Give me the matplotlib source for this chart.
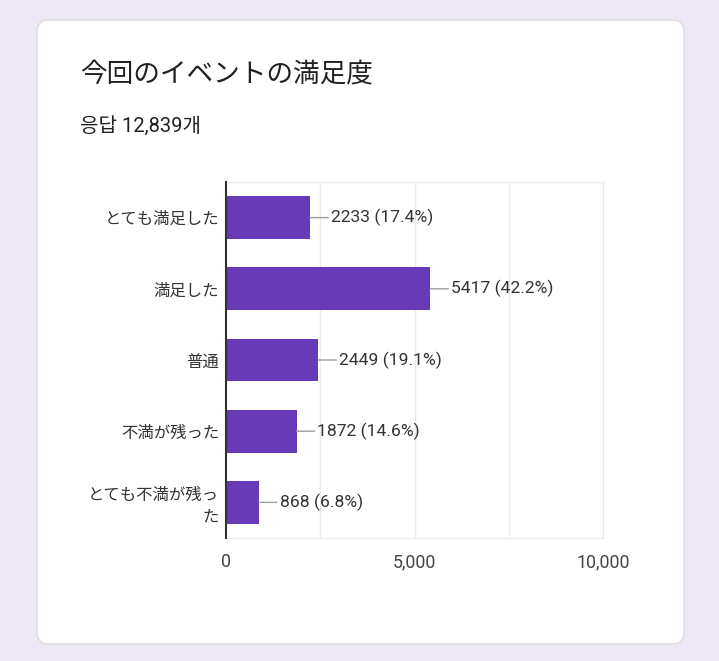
import matplotlib.pyplot as plt
from matplotlib.patches import FancyBboxPatch

# data
categories = ["とても満足した", "満足した", "普通", "不満が残った", "とても不満が残っ\nた"]
counts = [2233, 5417, 2449, 1872, 868]
percents = [17.4, 42.2, 19.1, 14.6, 6.8]
xticks = [0, 5000, 10000]
xticklabels = ["0", "5,000", "10,000"]
gridvals = [2500, 5000, 7500, 10000]

title = "今回のイベントの満足度"
subtitle = "응답 12,839개"

W, H = 719, 661
fig = plt.figure(figsize=(W / 100, H / 100), dpi=100)
fig.patch.set_facecolor("#ede7f6")

# card background
bg = fig.add_axes([0, 0, 1, 1])
bg.set_xlim(0, W)
bg.set_ylim(H, 0)
bg.axis("off")
card = FancyBboxPatch((37, 20), 647, 624, boxstyle="round,pad=0,rounding_size=12",
                      facecolor="white", edgecolor="#dadce0", linewidth=1)
bg.add_patch(card)

jp = ["Noto Sans CJK JP", "DejaVu Sans"]
num = ["Roboto", "Noto Sans CJK JP"]

fig.text(80 / W, 1 - 75 / H, title, fontsize=19.2, family=jp, color="#202124", va="center")
fig.text(80 / W, 1 - 126 / H, subtitle, fontsize=14.5, family=["Roboto", "Noto Sans CJK KR"],
         color="#202124", va="center")

ax = fig.add_axes([226 / W, 1 - 538 / H, (603 - 226) / W, (538 - 182) / H])
ax.set_facecolor("white")
ypos = list(range(len(categories)))
ax.barh(ypos, counts, height=0.6, color="#673ab7", zorder=3)
ax.set_xlim(0, 10000)
ax.set_ylim(len(categories) - 0.5, -0.5)

for g in gridvals:
    ax.axvline(g, color="#ececec", linewidth=1, zorder=1)

for i, (c, p) in enumerate(zip(counts, percents)):
    ax.annotate(f"{c} ({p}%)", xy=(c, i), xytext=(15, 0), textcoords="offset points",
                va="center", ha="left", fontsize=12.6, family=num, color="#333333",
                arrowprops=dict(arrowstyle="-", color="#9e9e9e", lw=1,
                                shrinkA=0, shrinkB=0, relpos=(0, 0.5)))

ax.set_yticks(ypos)
ax.set_yticklabels(categories, family=jp, fontsize=11.8, color="#333333", ha="right",
                   linespacing=1.3)
ax.set_xticks(xticks)
ax.set_xticklabels(xticklabels, family=num, fontsize=12.8, color="#444444")
ax.tick_params(length=0)
ax.tick_params(axis="x", pad=11)
ax.tick_params(axis="y", pad=5)

for s in ["top", "right", "bottom"]:
    ax.spines[s].set_color("#ececec")
    ax.spines[s].set_linewidth(1)
ax.spines["left"].set_color("#333333")
ax.spines["left"].set_linewidth(1.5)
ax.spines["left"].set_zorder(4)

fig.savefig("out.png", dpi=100, facecolor=fig.get_facecolor())
